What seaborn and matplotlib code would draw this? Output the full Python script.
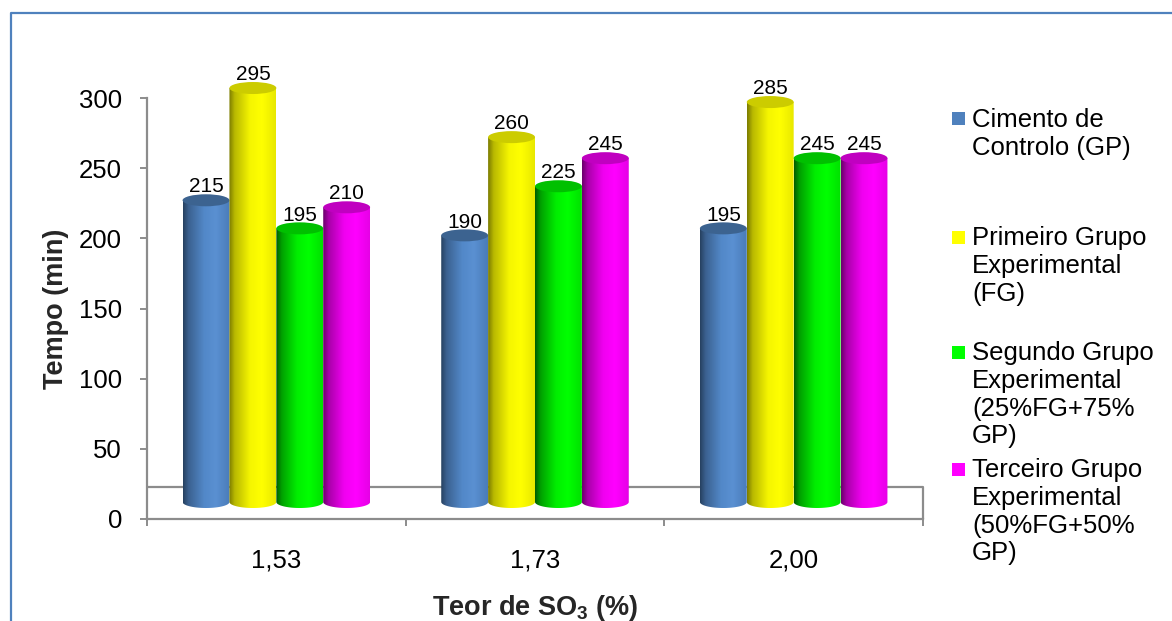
import numpy as np
import pandas as pd
import matplotlib
matplotlib.use("Agg")
import matplotlib.pyplot as plt
import seaborn as sns
from matplotlib import transforms as mtransforms
from matplotlib.path import Path
from matplotlib.patches import Ellipse, PathPatch, Rectangle
from matplotlib.lines import Line2D

# ---- data ----
categories = ["1,53", "1,73", "2,00"]
series = [
    "Cimento de\nControlo (GP)",
    "Primeiro Grupo\nExperimental\n(FG)",
    "Segundo Grupo\nExperimental\n(25%FG+75%\nGP)",
    "Terceiro Grupo\nExperimental\n(50%FG+50%\nGP)",
]
controlo = [215, 190, 195]
primeiro = [295, 260, 285]
segundo = [195, 225, 245]
terceiro = [210, 245, 245]
y_ticks = [0, 50, 100, 150, 200, 250, 300]

# ---- style ----
base_colors = ["#4F81BD", "#FFFF00", "#00FF00", "#FF00FF"]
cap_colors = ["#3C6390", "#CCCC00", "#00C000", "#C000C0"]
shade_stops = [0.0, 0.12, 0.45, 0.7, 1.0]
shades = [
    ["#26405f", "#3b6190", "#5288c8", "#5a90d2", "#4a7cb9"],
    ["#7a7a00", "#b8b800", "#f5f500", "#ffff00", "#e8e800"],
    ["#005a00", "#00a000", "#00ee00", "#00ff00", "#00e000"],
    ["#6a006a", "#a800a8", "#f000f0", "#ff00ff", "#e600e6"],
]
grey = "#8c8c8c"

sns.set_theme(style="white")
plt.rcParams["font.family"] = ["Liberation Sans", "DejaVu Sans"]
plt.rcParams["mathtext.fontset"] = "custom"
plt.rcParams["mathtext.rm"] = "Liberation Sans"
plt.rcParams["mathtext.bf"] = "Liberation Sans:bold"

df = pd.DataFrame({
    "teor": categories * len(series),
    "grupo": np.repeat(series, len(categories)),
    "tempo": controlo + primeiro + segundo + terceiro,
})

W, H = 1172, 621
fig = plt.figure(figsize=(W / 100, H / 100), dpi=100)
ax = fig.add_axes([147 / W, 1 - 519 / H, 776 / W, 421 / H])

sns.barplot(data=df, x="teor", y="tempo", hue="grupo", order=categories,
            hue_order=series, palette=base_colors, saturation=1,
            width=0.725, gap=0, errorbar=None, legend=False, ax=ax)

ax.set_xlim(-0.5, 2.5)
ax.set_ylim(0, 300)
px_per_unit = 421 / 300

# cylinders sit slightly raised on the 3-D floor
lift = mtransforms.ScaledTranslation(0, 0.17, fig.dpi_scale_trans)
tr = ax.transData + lift
half_h = 6 / px_per_unit  # half height of the elliptic ends, in data units

grad_pos = np.linspace(0, 1, 256)
for i, cont in enumerate(ax.containers):
    rgb = np.array([matplotlib.colors.to_rgb(c) for c in shades[i]])
    grad = np.stack([np.interp(grad_pos, shade_stops, rgb[:, k]) for k in range(3)], axis=-1)
    grad = grad[np.newaxis, :, :]
    for bar in cont:
        x0, w, h = bar.get_x(), bar.get_width(), bar.get_height()
        xc = x0 + w / 2
        bar.set_facecolor("none")
        bar.set_edgecolor("none")
        t = np.linspace(np.pi, 2 * np.pi, 60)
        verts = [(x0, h), (x0, 0)]
        verts += list(zip(xc + (w / 2) * np.cos(t), half_h * np.sin(t)))
        verts += [(x0 + w, h), (x0, h)]
        codes = [Path.MOVETO] + [Path.LINETO] * (len(verts) - 2) + [Path.CLOSEPOLY]
        clip = PathPatch(Path(verts, codes), transform=tr, fc="none", ec="none")
        im = ax.imshow(grad, extent=[x0, x0 + w, -half_h, h], aspect="auto",
                       transform=tr, interpolation="bilinear", zorder=3 + i)
        im.set_clip_box(fig.bbox)
        im.set_clip_path(clip)
        ax.add_patch(Ellipse((xc, h), w, 2 * half_h, transform=tr,
                             fc=cap_colors[i], ec="none", zorder=3.5 + i,
                             clip_on=False))
    ax.bar_label(cont, labels=[f"{v:g}" for v in cont.datavalues], padding=15,
                 fontsize=15, color="black", zorder=10, clip_on=False)

ax.set_xlim(-0.5, 2.5)
ax.set_ylim(0, 300)

# floor of the 3-D plot area
floor_top = 32 / px_per_unit
ax.plot([-0.5, 2.5, 2.5], [floor_top, floor_top, 0], color=grey, lw=1.6,
        zorder=1, clip_on=False, solid_capstyle="butt")

# axes styling
for side in ["top", "right"]:
    ax.spines[side].set_visible(False)
for side in ["left", "bottom"]:
    ax.spines[side].set_color(grey)
    ax.spines[side].set_linewidth(1.6)

ax.set_yticks(y_ticks)
ax.set_yticklabels([str(v) for v in y_ticks])
ax.tick_params(axis="y", length=5, width=1.4, color=grey, pad=13,
               labelsize=18.5, labelcolor="black", left=True)
ax.set_xticks(range(len(categories)))
ax.set_xticklabels(categories)
ax.set_xticks([-0.5, 0.5, 1.5, 2.5], minor=True)
ax.tick_params(axis="x", which="major", length=0, pad=21, labelsize=18.5,
               labelcolor="black")
ax.tick_params(axis="x", which="minor", length=5, width=1.4, color=grey,
               bottom=True)

ax.set_xlabel(r"Teor de SO$_\mathbf{3}$ (%)", fontsize=19.5, fontweight="bold")
ax.xaxis.set_label_coords(0.5, -0.175)
ax.set_ylabel("Tempo (min)", fontsize=19.5, fontweight="bold")
ax.yaxis.set_label_coords(-0.101, 0.5)

# legend, entries top-aligned with their swatches
sq_tops = [112, 231, 346, 463]
txt_tops = [108, 226, 341, 458]
for lab, col, st, tt in zip(series, base_colors, sq_tops, txt_tops):
    fig.add_artist(Rectangle((952 / W, 1 - (st + 13) / H), 13 / W, 13 / H,
                             transform=fig.transFigure, fc=col, ec="none"))
    fig.text(972 / W, 1 - tt / H, lab, ha="left", va="top", fontsize=18.5,
             linespacing=1.2, color="black")

# outer chart frame
fig.add_artist(Line2D([10.5 / W, 10.5 / W, 1.0], [0, 1 - 12.5 / H, 1 - 12.5 / H],
                      transform=fig.transFigure, color="#4F81BD", lw=1.6))

fig.savefig("out.png", dpi=100)
